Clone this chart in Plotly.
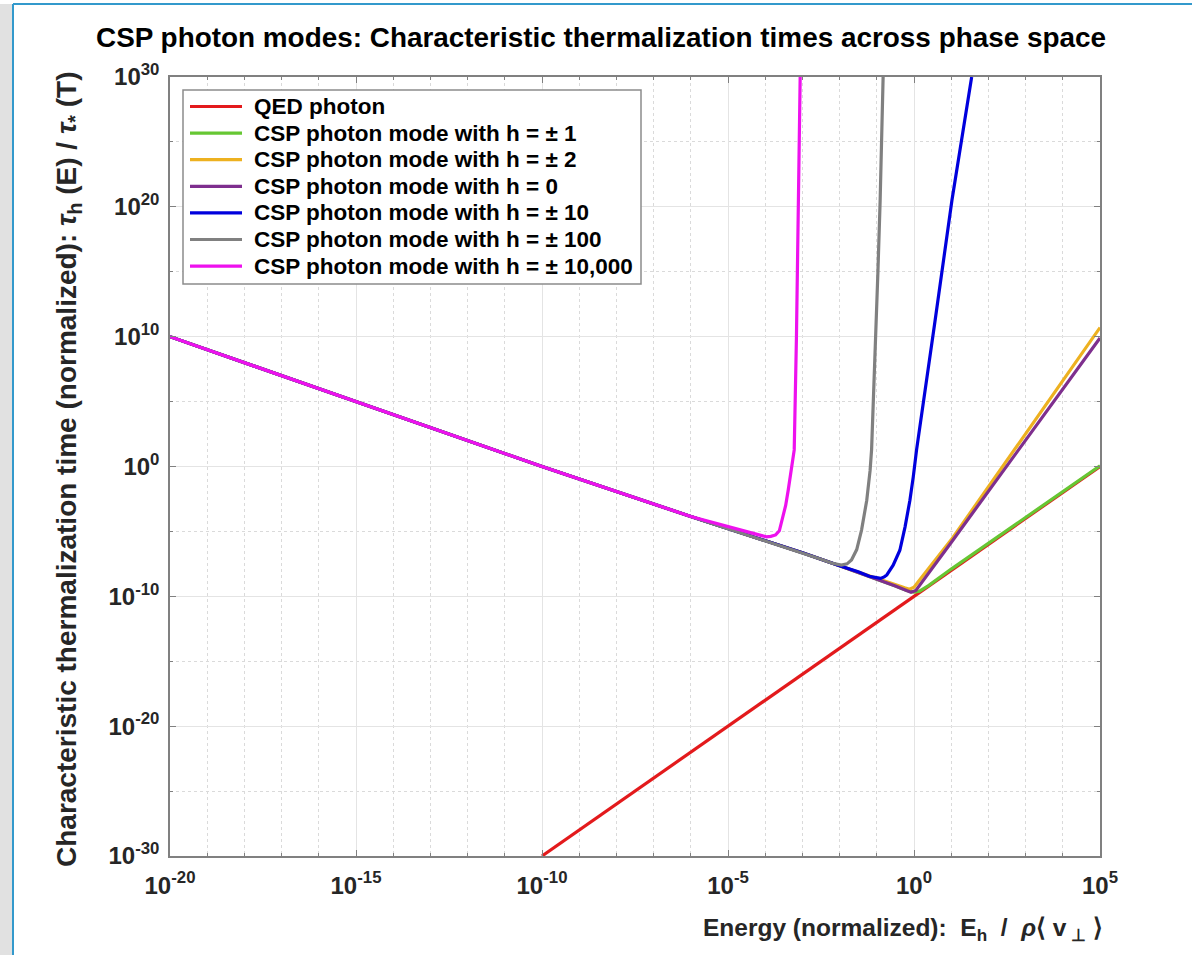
import numpy as np
import plotly.graph_objects as go

# ---------------- data (log10 values) ----------------
qed_logE = [-10, 5]
qed_logtau = [-30, 0]

base_logE = [-20, -10, -6, -4, -3, -2, -1.5, -1]
base_logtau = [10, 0, -3.85, -5.7, -6.65, -7.65, -8.15, -8.65]

h1_logE = base_logE + [-0.5, -0.2, 0.0, 0.15, 0.4, 1, 3, 5]
h1_logtau = base_logtau + [-9.2, -9.55, -9.68, -9.6, -9.15, -7.9, -3.9, 0.05]

h2_logE = base_logE + [-0.5, -0.25, -0.12, 0.0, 0.15, 1, 5]
h2_logtau = base_logtau + [-9.15, -9.35, -9.45, -9.3, -8.75, -5.65, 10.7]

h0_logE = base_logE + [-0.5, -0.2, -0.08, 0.05, 0.25, 1, 5]
h0_logtau = base_logtau + [-9.2, -9.55, -9.68, -9.55, -8.75, -5.85, 9.9]

h10_logE = [-20, -10, -6, -4, -3, -2, -1.5, -1.2, -1.0, -0.9, -0.8, -0.73, -0.56,
            -0.38, -0.24, -0.11, -0.02, 0.07, 0.55, 1.02, 1.55]
h10_logtau = [10, 0, -3.85, -5.7, -6.65, -7.65, -8.1, -8.45, -8.6, -8.62, -8.5, -8.35, -7.6,
              -6.45, -4.65, -2.6, -0.8, 1.3, 10.9, 20.5, 30]

h100_logE = [-20, -10, -6, -4, -3, -2.5, -2.2, -1.95, -1.8, -1.68, -1.54, -1.41, -1.27,
             -1.18, -1.14, -1.05, -0.97, -0.91, -0.83]
h100_logtau = [10, 0, -3.85, -5.7, -6.65, -7.15, -7.45, -7.6, -7.5, -7.2, -6.4, -4.9, -2.6,
               -0.3, 1.3, 8, 15, 20.5, 30]

h10000_logE = [-20, -10, -6, -4.6, -4.2, -3.97, -3.85, -3.72, -3.62, -3.52, -3.45, -3.38,
               -3.29, -3.22, -3.16, -3.11, -3.06]
h10000_logtau = [10, 0, -3.85, -4.95, -5.3, -5.42, -5.38, -5.27, -4.95, -3.9, -3.0, -1.8,
                 -0.26, 1.28, 10, 20, 30]

series_names = [
    "QED photon",
    "CSP photon mode with h = ± 1",
    "CSP photon mode with h = ± 2",
    "CSP photon mode with h = 0",
    "CSP photon mode with h = ± 10",
    "CSP photon mode with h = ± 100",
    "CSP photon mode with h = ± 10,000",
]
series_colors = ["#e31a1c", "#66c733", "#EDB120", "#7E2F8E", "#0000dd", "#808080", "#ee11ee"]
series_data = [
    (qed_logE, qed_logtau),
    (h1_logE, h1_logtau),
    (h2_logE, h2_logtau),
    (h0_logE, h0_logtau),
    (h10_logE, h10_logtau),
    (h100_logE, h100_logtau),
    (h10000_logE, h10000_logtau),
]

x_tick_exps = [-20, -15, -10, -5, 0, 5]
y_tick_exps = [-30, -20, -10, 0, 10, 20, 30]

# ---------------- figure ----------------
W, H = 1192, 955
L, R, T, B = 170, 92, 77, 99
pw, ph = W - L - R, H - T - B


def px(xp):
    return (xp - L) / pw


def py(yp):
    return (H - B - yp) / ph


FONT = "Arial, Liberation Sans, Helvetica, sans-serif"
NB = "\u00a0"

fig = go.Figure()
for name, color, (lx, ly) in zip(series_names, series_colors, series_data):
    fig.add_trace(go.Scatter(
        x=10.0 ** np.array(lx, dtype=float),
        y=10.0 ** np.array(ly, dtype=float),
        mode="lines",
        name=name,
        line=dict(color=color, width=3.2),
        showlegend=False,
    ))

axis_common = dict(
    type="log",
    showline=True, linecolor="#808080", linewidth=1.5, mirror="ticks",
    ticks="inside", ticklen=6, tickcolor="#808080", tickwidth=1,
    showgrid=True, gridcolor="#e4e4e4", gridwidth=1,
    zeroline=False,
    tickfont=dict(family=FONT, size=24, color="#262626"),
)

fig.update_xaxes(
    **axis_common,
    range=[-20, 5],
    tickmode="array",
    tickvals=[10.0 ** e for e in x_tick_exps],
    ticktext=[f"<b>10<sup>{e}</sup></b>" for e in x_tick_exps],
    ticklabelstandoff=7,
    minor=dict(tickvals=[10.0 ** e for e in range(-20, 6)], ticks="inside", ticklen=3,
               tickcolor="#808080", showgrid=True, gridcolor="#dadada", griddash="dot"),
)
fig.update_yaxes(
    **axis_common,
    range=[-30, 30],
    tickmode="array",
    tickvals=[10.0 ** e for e in y_tick_exps],
    ticktext=[f"<b>10<sup>{e}</sup></b>" for e in y_tick_exps],
    ticklabelstandoff=4,
    minor=dict(tickvals=[10.0 ** e for e in range(-30, 31, 5)], ticks="inside", ticklen=3,
               tickcolor="#808080", showgrid=True, gridcolor="#dadada", griddash="dot"),
)

xlabel = ("<b>Energy (normalized):" + NB * 2 + "E<sub>h</sub>" + NB * 2 + "/" + NB * 2 +
          "<i>ρ</i>⟨" + NB + "v<sub>" + NB + "⊥</sub>" + NB + "⟩</b>")

annotations = [
    dict(text="<b>CSP photon modes: Characteristic thermalization times across phase space</b>",
         x=px(601), y=py(37), xref="paper", yref="paper", showarrow=False,
         xanchor="center", yanchor="middle", font=dict(family=FONT, size=27.9, color="black")),
    dict(text=xlabel,
         x=px(903), y=py(929), xref="paper", yref="paper", showarrow=False,
         xanchor="center", yanchor="middle", font=dict(family=FONT, size=24.5, color="#262626")),
    dict(text="<b>Characteristic thermalization time (normalized): <i>τ</i><sub>h</sub> (E) / <i>τ</i><sub>*</sub> (T)</b>",
         x=px(68), y=py(469), xref="paper", yref="paper", showarrow=False, textangle=-90,
         xanchor="center", yanchor="middle", font=dict(family=FONT, size=28, color="#262626")),
]

shapes = [
    dict(type="rect", xref="paper", yref="paper", x0=px(0), x1=px(13), y0=py(955), y1=py(4),
         fillcolor="#e1e1e1", line=dict(width=0), layer="below"),
    dict(type="line", xref="paper", yref="paper", x0=px(13), x1=px(13), y0=py(955), y1=py(4),
         line=dict(color="#3399cc", width=2)),
    dict(type="line", xref="paper", yref="paper", x0=px(13), x1=px(1192), y0=py(4), y1=py(4),
         line=dict(color="#3399cc", width=2)),
    # legend box
    dict(type="rect", xref="paper", yref="paper", x0=px(183), x1=px(641), y0=py(284), y1=py(90),
         fillcolor="white", line=dict(color="#8c8c8c", width=1.5), layer="above"),
]

# legend entries (manual, to match spacing of the reference)
leg_top, leg_step = 106.5, 26.6
for i, (name, color) in enumerate(zip(series_names, series_colors)):
    yy = py(leg_top + i * leg_step)
    shapes.append(dict(type="line", xref="paper", yref="paper", x0=px(190), x1=px(242),
                       y0=yy, y1=yy, line=dict(color=color, width=3.2), layer="above"))
    annotations.append(dict(text=f"<b>{name}</b>", x=px(252), y=yy, xref="paper", yref="paper",
                            showarrow=False, xanchor="left", yanchor="middle",
                            font=dict(family=FONT, size=22.5, color="black")))

fig.update_layout(
    width=W, height=H, autosize=False,
    margin=dict(l=L, r=R, t=T, b=B, pad=0),
    paper_bgcolor="white", plot_bgcolor="white",
    font=dict(family=FONT, color="#262626"),
    showlegend=False,
    annotations=annotations,
    shapes=shapes,
)

fig.write_html("out.html")
